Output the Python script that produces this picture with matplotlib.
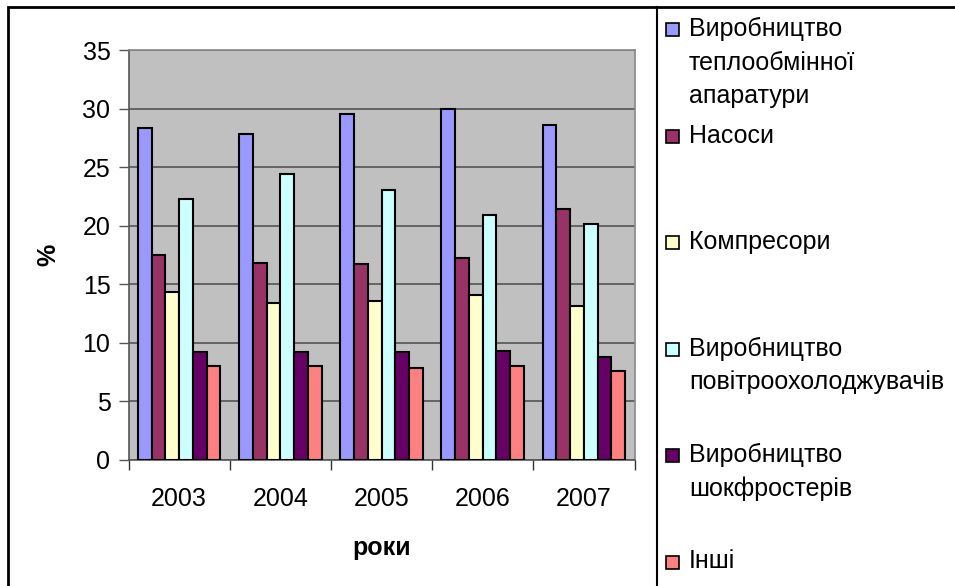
import matplotlib
matplotlib.use("Agg")
import matplotlib.pyplot as plt
import numpy as np
from matplotlib.patches import Rectangle
from matplotlib.lines import Line2D

plt.rcParams['font.family'] = ['Liberation Sans', 'DejaVu Sans']

years = ['2003', '2004', '2005', '2006', '2007']
series_names = ['Виробництво\nтеплообмінної\nапаратури',
                'Насоси',
                'Компресори',
                'Виробництво\nповітроохолоджувачів',
                'Виробництво\nшокфростерів',
                'Інші']
heat_exch = [28.3, 27.8, 29.5, 30.0, 28.6]
pumps = [17.5, 16.8, 16.7, 17.2, 21.4]
compressors = [14.3, 13.4, 13.6, 14.1, 13.1]
air_coolers = [22.3, 24.4, 23.0, 20.9, 20.1]
shock_frost = [9.2, 9.2, 9.2, 9.3, 8.8]
others = [8.0, 8.0, 7.8, 8.0, 7.6]
colors = ['#9999FF', '#993366', '#FFFFCC', '#CCFFFF', '#660066', '#FF8080']

all_series = [heat_exch, pumps, compressors, air_coolers, shock_frost, others]

fs = 18

fig = plt.figure(figsize=(9.55, 5.86), dpi=100)
ax = fig.add_axes([128.5/955, 1-459.7/586, (634.5-128.5)/955, (459.7-50)/586])
ax.set_facecolor('#C0C0C0')

x = np.arange(len(years))
bw = 0.136
for i, vals in enumerate(all_series):
    ax.bar(x + (i - 2.5)*bw, vals, width=bw, color=colors[i],
           edgecolor='black', linewidth=1.5, zorder=3)

ax.set_xlim(-0.5, len(years) - 0.5)
ax.set_ylim(0, 35)
ax.set_yticks(np.arange(0, 36, 5))
ax.yaxis.grid(True, color='#555555', linewidth=1.2, zorder=0)
ax.set_axisbelow(True)

ax.set_xticks(x)
ax.set_xticklabels(years, fontsize=fs)
ax.set_xticks(np.arange(-0.5, len(years)), minor=True)
ax.tick_params(axis='x', which='major', length=0, pad=20)
ax.tick_params(axis='x', which='minor', length=7, width=1, color='#333333', direction='out')
ax.tick_params(axis='y', length=7, width=1, color='#555555', labelsize=fs, pad=6)

for s in ['left', 'bottom']:
    ax.spines[s].set_color('#555555')
    ax.spines[s].set_linewidth(1.2)
for s in ['top', 'right']:
    ax.spines[s].set_color('#888888')
    ax.spines[s].set_linewidth(1.2)

ax.set_ylabel('%', fontsize=fs, fontweight='bold', labelpad=16)
ax.set_xlabel('роки', fontsize=fs, fontweight='bold', labelpad=18)

# outer frame and legend separator
fig.add_artist(Rectangle((8/955, -0.1), 1.2, 1 - 7/586 + 0.1, transform=fig.transFigure,
                         fill=False, edgecolor='black', linewidth=2))
fig.add_artist(Line2D([657/955, 657/955], [0, 1 - 7/586], transform=fig.transFigure,
                      color='black', linewidth=1.5))

# legend drawn by hand
W, H = 955, 586
for i, name in enumerate(series_names):
    yc = 29 + i*106.5
    fig.add_artist(Rectangle((666/W, 1 - (yc + 7)/H), 13/W, 13/H, transform=fig.transFigure,
                             facecolor=colors[i], edgecolor='black', linewidth=1.2))
    for k, line in enumerate(name.split('\n')):
        fig.text(689/W, 1 - (yc + k*33.5)/H, line, fontsize=fs, va='center', ha='left')

fig.savefig('out.png', dpi=100)
